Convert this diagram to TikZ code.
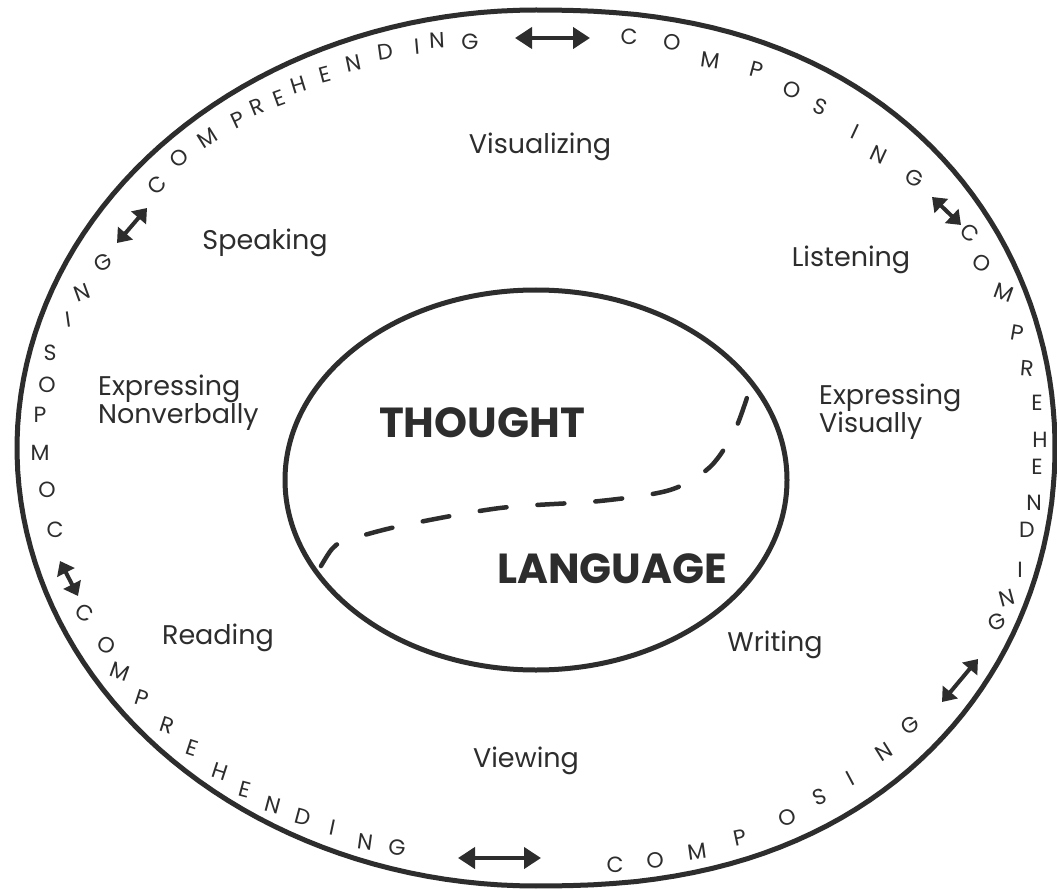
\documentclass[tikz,border=0pt]{standalone}
\usepackage{fontspec}
\setmainfont{Poppins}
\definecolor{InkGray}{RGB}{45,45,45}
\usetikzlibrary{arrows.meta}

\begin{document}
\begin{tikzpicture}[x=1pt,y=-1pt,
    ring/.style={text=InkGray, font=\fontsize{22}{22}\selectfont, inner sep=0pt},
    skill/.style={text=InkGray, font=\fontsize{27}{28}\selectfont, inner sep=0pt, align=left, anchor=base},
    core/.style={text=InkGray, font=\bfseries\fontsize{42}{42}\selectfont, inner sep=0pt, anchor=base},
    swap/.style={InkGray, line width=4pt, {Triangle[length=13pt,width=19pt]}-{Triangle[length=13pt,width=19pt]}},
    longswap/.style={swap, {Triangle[length=17pt,width=21pt]}-{Triangle[length=17pt,width=21pt]}}]
  \useasboundingbox (0,0) rectangle (1057,890);
  \fill[white] (0,0) rectangle (1057,890);
  % outer ring: left half an ellipse, right half fuller
  \draw[InkGray, line width=5pt]
    plot[domain=90:270, samples=90] ({536+519*cos(\x)}, {448-438*sin(\x)})
    -- plot[domain=-89.9:89.9, samples=90] ({536+519*cos(\x)^0.85}, {448-438*sin(\x)})
    -- cycle;
  % inner ellipse and the border between thought and language
  \draw[InkGray, line width=5pt] (536,480) ellipse [x radius=251, y radius=190];
  \draw[InkGray, line width=4.5pt, line cap=round, dash pattern=on 27pt off 31pt]
    plot[smooth] coordinates {(321,566) (332,549) (345,541) (400,526) (500,508)
      (600,501) (670,490) (710,467) (735,430) (751,385)};
  % skills
  \node[skill] (visualizing) at (540,154) {Visualizing};
  \node[skill] (speaking) at (265,250) {Speaking};
  \node[skill] (listening) at (851,267) {Listening};
  \node[skill, anchor=base west] (exprNonverbal) at (98,423) {Expressing\\Nonverbally};
  \node[skill, anchor=base west] (exprVisual) at (819,432) {Expressing\\Visually};
  \node[skill] (reading) at (218,644) {Reading};
  \node[skill] (writing) at (775,651) {Writing};
  \node[skill] (viewing) at (526,767) {Viewing};
  \node[core] (thought) at (482,437) {THOUGHT};
  \node[core] (language) at (612,583) {LANGUAGE};
  % letters round the ring
  \foreach \px/\py/\ch/\rot [count=\k] in {
    55/530/C/0, 47/490/O/0, 40/453/M/0, 40/415/P/0, 47/385/O/0,
    50/353/S/0, 68/320/I/8, 82/293/N/20, 103/263/G/30,
    157/185/C/45, 179/158/O/40, 207/138/M/32, 238/120/P/25, 257/107/R/22,
    279/98/E/20, 299/85/H/17, 325/75/E/15, 353/63/N/12, 385/52/D/8,
    417/47/I/5, 437/40/N/3, 470/42/G/0,
    629/37/C/0, 672/42/O/-3, 710/60/M/-8, 757/70/P/-15, 792/90/O/-18,
    820/107/S/-22, 855/132/I/-25, 879/155/N/-25, 914/178/G/-25,
    970/233/C/-40, 982/263/O/-30, 1004/293/M/-20, 1017/333/P/-10,
    1027/368/R/-5, 1037/403/E/0, 1040/440/H/0, 1037/467/E/0,
    1034/503/N/0, 1027/530/D/0, 1020/570/I/0, 1007/598/N/15, 997/622/G/25,
    615/865/C/0, 655/860/O/3, 697/852/M/8, 740/838/P/12, 787/818/O/18,
    820/797/S/22, 850/778/I/28, 884/752/N/32, 910/725/G/35,
    85/613/C/-30, 107/645/O/-25, 120/672/M/-20, 142/698/P/-18, 167/725/R/-18,
    192/748/E/-18, 220/772/H/-18, 245/790/E/-15, 273/805/N/-15, 303/817/D/-15,
    333/828/I/-12, 365/842/N/-8, 397/848/G/-5}{
    \node[ring, rotate=\rot] (ltr\k) at (\px,\py) {\ch};
  }
  % arrows between the words
  \coordinate (ulA) at (117,243); \coordinate (ulB) at (147,208);
  \coordinate (topA) at (515,38); \coordinate (topB) at (590,38);
  \coordinate (urA) at (932,197); \coordinate (urB) at (961,225);
  \coordinate (lrA) at (942,702); \coordinate (lrB) at (978,659);
  \coordinate (botA) at (458,858); \coordinate (botB) at (541,858);
  \coordinate (llA) at (60,561); \coordinate (llB) at (78,596);
  \draw[swap] (ulA) -- (ulB);
  \draw[longswap] (topA) -- (topB);
  \draw[swap] (urA) -- (urB);
  \draw[swap] (lrA) -- (lrB);
  \draw[longswap] (botA) -- (botB);
  \draw[swap] (llA) -- (llB);
\end{tikzpicture}
\end{document}
